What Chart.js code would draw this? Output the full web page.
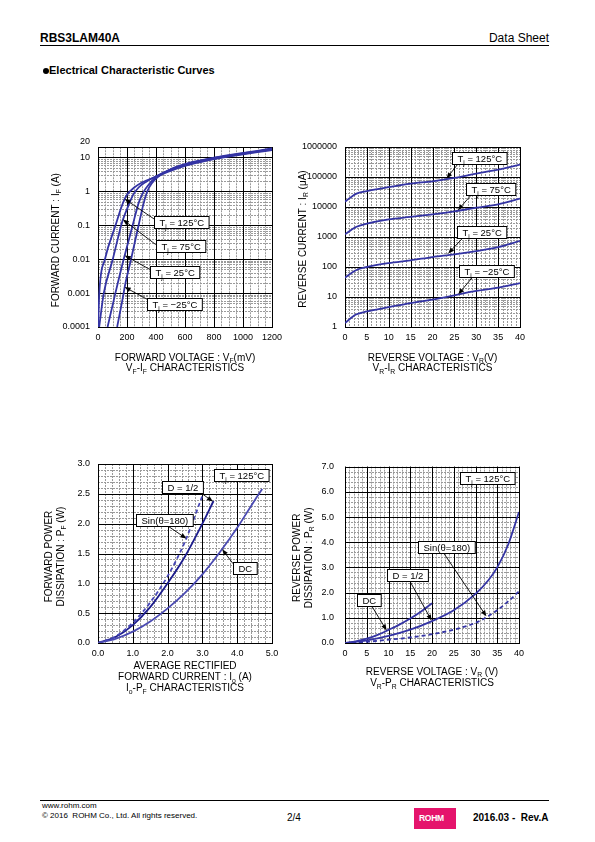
<!DOCTYPE html>
<html><head><meta charset="utf-8">
<script src="https://cdn.jsdelivr.net/npm/chart.js@4.4.0/dist/chart.umd.min.js"></script>
<style>
body{margin:0;width:595px;height:842px;position:relative;background:#fff;font-family:"Liberation Sans",Arial,sans-serif;overflow:hidden}
canvas{position:absolute}
.t{position:absolute;white-space:nowrap;color:#000;line-height:1}
</style></head><body>
<div class="t" style="left:40px;top:32px;font-size:12px;font-weight:bold">RBS3LAM40A</div>
<div class="t" style="right:46px;top:32px;font-size:12px">Data Sheet</div>
<div style="position:absolute;left:40px;top:45px;width:509px;height:1px;background:#000"></div>
<div style="position:absolute;left:43px;top:68px;width:6px;height:6px;border-radius:3px;background:#000"></div>
<div class="t" style="left:49px;top:65px;font-size:11px;font-weight:bold">Electrical Characteristic Curves</div>

<canvas id="c1"></canvas><canvas id="c2"></canvas><canvas id="c3"></canvas><canvas id="c4"></canvas>

<div style="position:absolute;left:40px;top:800px;width:509px;height:1px;background:#000"></div>
<div class="t" style="left:42px;top:802px;font-size:8px">www.rohm.com</div>
<div class="t" style="left:42px;top:812px;font-size:8px">© 2016&nbsp; ROHM Co., Ltd. All rights reserved.</div>
<div class="t" style="left:287px;top:813px;font-size:10px">2/4</div>
<div style="position:absolute;left:414px;top:808px;width:42px;height:21px;background:#e5146c"></div>
<div class="t" style="left:419px;top:814px;font-size:8.5px;font-weight:bold;color:#fff;letter-spacing:-0.3px">ROHM</div>
<div class="t" style="left:473px;top:813px;font-size:10px;font-weight:bold">2016.03 -&nbsp; Rev.A</div>

<script>
// ---------------- DATA ----------------
// Chart 1: VF-IF (VF in mV, IF in A)
const fwdVoltTicks = [0, 200, 400, 600, 800, 1000, 1200];
const fwdCurrTicks = [0.0001, 0.001, 0.01, 0.1, 1, 10, 20];
const fwdCurrTickLabels = ['0.0001', '0.001', '0.01', '0.1', '1', '10', ['20', '']];
const vf_125 = [1, 9, 48, 121, 160, 184, 200, 250, 300, 400, 500, 600, 700, 800, 900, 1000, 1100, 1200];
const if_125 = [0.0001, 0.001, 0.01, 0.1, 0.33, 0.6, 0.8, 1.3, 1.8, 2.7, 4.0, 5.6, 7.2, 8.9, 10.6, 12.4, 14.3, 16.5];
const vf_75 = [8, 40, 102, 160, 172, 200, 243, 280, 330, 400, 500, 600, 700, 800, 900, 1000, 1100, 1200];
const if_75 = [0.0001, 0.001, 0.01, 0.1, 0.147, 0.3, 0.8, 1.3, 1.9, 2.8, 4.3, 6.0, 7.6, 9.3, 11.0, 12.8, 14.8, 17.2];
const vf_25 = [66, 120, 177, 184, 239, 280, 310, 350, 400, 500, 600, 700, 800, 900, 1000, 1100, 1200];
const if_25 = [0.0001, 0.001, 0.01, 0.0129, 0.1, 0.45, 0.9, 1.6, 2.6, 4.4, 6.2, 7.9, 9.6, 11.3, 13.2, 15.2, 18.0];
const vf_m25 = [132, 177, 184, 228, 280, 315, 340, 370, 410, 500, 600, 700, 800, 900, 1000, 1100, 1200];
const if_m25 = [0.0001, 0.001, 0.0015, 0.01, 0.1, 0.45, 1.0, 1.7, 2.6, 4.5, 6.4, 8.1, 9.9, 11.7, 13.6, 15.7, 18.8];

// Chart 2: VR-IR (VR in V, IR in uA)
const revVoltTicks = [0, 5, 10, 15, 20, 25, 30, 35, 40];
const revCurrTicks = [1, 10, 100, 1000, 10000, 100000, 1000000];
const revCurrTickLabels = ['1', '10', '100', '1000', '10000', '100000', '1000000'];
const vr_pts = [0, 2.5, 5, 10, 15, 20, 25, 30, 35, 40];
const ir_125 = [15000, 27500, 34000, 46000, 60000, 72000, 93000, 130000, 175000, 260000];
const ir_75 = [1230, 2150, 2800, 3900, 4650, 5700, 7200, 9500, 12300, 19000];
const ir_25 = [44, 78, 100, 135, 166, 215, 263, 340, 460, 740];
const ir_m25 = [1.36, 2.6, 3.3, 4.6, 6.3, 8.2, 11.4, 16, 20.5, 29];

// Chart 3: Io-PF (Io in A, PF in W)
const ioTicks = [0, 1, 2, 3, 4, 5];
const pfTicks = [0, 0.5, 1, 1.5, 2, 2.5, 3];
const io_dc = [0, 0.5, 1.0, 1.5, 2.0, 2.5, 3.0, 3.5, 4.0, 4.5, 4.72];
const pf_dc = [0, 0.07, 0.19, 0.36, 0.58, 0.84, 1.15, 1.52, 1.93, 2.39, 2.58];
const io_half = [0, 0.5, 1.0, 1.5, 2.0, 2.5, 3.0, 3.32];
const pf_half = [0, 0.1, 0.3, 0.6, 1.0, 1.45, 2.0, 2.38];
const io_sin = [0, 0.5, 1.0, 1.5, 2.0, 2.5, 3.02];
const pf_sin = [0, 0.11, 0.34, 0.68, 1.12, 1.7, 2.5];

// Chart 4: VR-PR (VR in V, PR in W)
const vrTicks = [0, 5, 10, 15, 20, 25, 30, 35, 40];
const prTicks = [0, 1, 2, 3, 4, 5, 6, 7];
const vr_dc = [0, 2.5, 5, 7.5, 10, 12.5, 15, 17.5, 20];
const pr_dc = [0, 0.06, 0.17, 0.32, 0.52, 0.73, 0.97, 1.25, 1.58];
const vr_half = [0, 5, 10, 15, 20, 25, 30, 33, 35, 37.5, 40];
const pr_half = [0, 0.1, 0.28, 0.53, 0.87, 1.3, 1.95, 2.5, 3.0, 3.9, 5.2];
const vr_sin = [0, 5, 10, 15, 20, 25, 30, 32.5, 35, 37.5, 40];
const pr_sin = [0, 0.05, 0.13, 0.22, 0.35, 0.53, 0.8, 1.02, 1.3, 1.65, 2.05];

// ---------------- HELPERS ----------------
const FONT = '"Liberation Sans", Arial, sans-serif';
const zip = (xs, ys) => xs.map((x, i) => ({x: x, y: ys[i]}));
const range = (a, b, s) => { const r = []; for (let v = a; v <= b + 1e-9; v += s) r.push(+v.toFixed(6)); return r; };
const logMinors = (lo, hi) => { const r = []; for (let d = Math.floor(Math.log10(lo)); d <= Math.ceil(Math.log10(hi)); d++) for (let k = 2; k <= 9; k++) { const v = k * Math.pow(10, d); if (v > lo && v < hi) r.push(v); } return r; };

function parseRich(s) {
  const out = []; const re = /_\{([^}]*)\}/g; let last = 0, m;
  while ((m = re.exec(s))) { if (m.index > last) out.push({t: s.slice(last, m.index), sub: false}); out.push({t: m[1], sub: true}); last = re.lastIndex; }
  if (last < s.length) out.push({t: s.slice(last), sub: false});
  return out;
}
function richWidth(ctx, segs, size) {
  let w = 0; segs.forEach(s => { ctx.font = (s.sub ? size * 0.68 : size) + 'px ' + FONT; w += ctx.measureText(s.t).width; }); return w;
}
function drawRich(ctx, str, x, y, size, align, rotate) {
  const segs = parseRich(str);
  ctx.save(); ctx.translate(x, y); if (rotate) ctx.rotate(-Math.PI / 2);
  const w = richWidth(ctx, segs, size);
  let cx = align === 'left' ? 0 : (align === 'right' ? -w : -w / 2);
  ctx.fillStyle = '#000'; ctx.textBaseline = 'alphabetic'; ctx.textAlign = 'left';
  segs.forEach(s => { const fs = s.sub ? size * 0.68 : size; ctx.font = fs + 'px ' + FONT; ctx.fillText(s.t, cx, size * 0.36 + (s.sub ? size * 0.28 : 0)); cx += ctx.measureText(s.t).width; });
  ctx.restore();
}
function arrow(ctx, x1, y1, x2, y2) {
  const ang = Math.atan2(y2 - y1, x2 - x1), L = 6, H = 2.4;
  ctx.save(); ctx.strokeStyle = '#000'; ctx.fillStyle = '#000'; ctx.lineWidth = 0.9;
  ctx.beginPath(); ctx.moveTo(x1, y1); ctx.lineTo(x2 - Math.cos(ang) * L * 0.8, y2 - Math.sin(ang) * L * 0.8); ctx.stroke();
  ctx.beginPath(); ctx.moveTo(x2, y2);
  ctx.lineTo(x2 - L * Math.cos(ang) + H * Math.sin(ang), y2 - L * Math.sin(ang) - H * Math.cos(ang));
  ctx.lineTo(x2 - L * Math.cos(ang) - H * Math.sin(ang), y2 - L * Math.sin(ang) + H * Math.cos(ang));
  ctx.closePath(); ctx.fill(); ctx.restore();
}

const decor = {
  id: 'decor',
  beforeDatasetsDraw(chart, args, o) {
    const {ctx, chartArea: a, scales: {x, y}} = chart;
    ctx.save();
    ctx.lineWidth = 1;
    const vline = v => { const p = Math.round(x.getPixelForValue(v)) + 0.5; ctx.beginPath(); ctx.moveTo(p, a.top); ctx.lineTo(p, a.bottom); ctx.stroke(); };
    const hline = v => { const p = Math.round(y.getPixelForValue(v)) + 0.5; ctx.beginPath(); ctx.moveTo(a.left, p); ctx.lineTo(a.right, p); ctx.stroke(); };
    ctx.strokeStyle = '#9a9a9a'; ctx.setLineDash([2, 1]);
    o.minorX.forEach(vline); o.minorY.forEach(hline);
    ctx.setLineDash([]); ctx.strokeStyle = '#000';
    x.ticks.forEach(t => vline(t.value)); y.ticks.forEach(t => hline(t.value));
    ctx.strokeRect(Math.round(a.left) + 0.5, Math.round(a.top) + 0.5, Math.round(a.right) - Math.round(a.left), Math.round(a.bottom) - Math.round(a.top));
    ctx.restore();
  },
  afterDraw(chart, args, o) {
    const {ctx, chartArea: a, scales: {x, y}} = chart;
    const cxm = (a.left + a.right) / 2, cym = (a.top + a.bottom) / 2;
    o.xTitle.forEach(l => drawRich(ctx, l.text, cxm + (l.dx || 0), a.bottom + l.dy, 10, 'center', false));
    o.yTitle.forEach(l => drawRich(ctx, l.text, a.left + l.dx, cym + (l.dy || 0), 10, 'center', true));
    o.notes.forEach(n => {
      if (n.tip) arrow(ctx, x.getPixelForValue(n.tail[0]), y.getPixelForValue(n.tail[1]), x.getPixelForValue(n.tip[0]), y.getPixelForValue(n.tip[1]));
      const segs = parseRich(n.text); const w = richWidth(ctx, segs, 9.5) + 10; const h = 12;
      const bx = Math.round(x.getPixelForValue(n.box[0])) + 0.5, by = Math.round(y.getPixelForValue(n.box[1]) - h / 2) + 0.5;
      ctx.save(); ctx.fillStyle = '#fff'; ctx.strokeStyle = '#000'; ctx.lineWidth = 1;
      ctx.fillRect(bx, by, w, h); ctx.strokeRect(bx, by, w, h); ctx.restore();
      drawRich(ctx, n.text, bx + w / 2, by + h / 2, 9.5, 'center', false);
    });
  }
};

function tickAxis(type, vals, labels, min, max, pad, fit) {
  const lab = new Map(vals.map((v, i) => [v, labels[i]]));
  return {
    type: type, min: min, max: max,
    afterBuildTicks: s => { s.ticks = vals.map(v => ({value: v})); },
    afterFit: fit,
    ticks: {autoSkip: false, maxRotation: 0, padding: pad, color: '#000', font: {family: FONT, size: 9, lineHeight: 1.25}, callback: v => lab.get(v)},
    grid: {display: false, drawTicks: false},
    border: {display: false}
  };
}

function makeChart(id, rect, plot, cfg) {
  const cv = document.getElementById(id);
  cv.width = rect.w; cv.height = rect.h; cv.style.left = rect.x + 'px'; cv.style.top = rect.y + 'px';
  const yW = plot.l - rect.x, xH = rect.y + rect.h - plot.b;
  new Chart(cv, {
    type: 'line',
    data: {datasets: cfg.datasets},
    options: {
      responsive: false, animation: false, devicePixelRatio: 1, parsing: true,
      layout: {padding: {left: 0, top: plot.t - rect.y, right: rect.x + rect.w - plot.r, bottom: 0}},
      plugins: {legend: {display: false}, tooltip: {enabled: false}, decor: cfg.decor},
      scales: {
        x: tickAxis(cfg.x.type, cfg.x.vals, cfg.x.labels, cfg.x.min, cfg.x.max, cfg.x.pad, s => { s.height = xH; }),
        y: tickAxis(cfg.y.type, cfg.y.vals, cfg.y.labels, cfg.y.min, cfg.y.max, cfg.y.pad, s => { s.width = yW; })
      },
      elements: {point: {radius: 0}, line: {borderWidth: 1.8, cubicInterpolationMode: 'monotone'}}
    },
    plugins: [decor]
  });
}
const ds = (pts, color, dash) => ({data: pts, borderColor: color, borderDash: dash || [], fill: false, pointRadius: 0});
const BLUE = '#3434a4';

// ---------------- CHART 1 ----------------
makeChart('c1', {x: 30, y: 128, w: 262, h: 250}, {l: 98, t: 147, r: 272, b: 327}, {
  datasets: [ds(zip(vf_125, if_125), BLUE), ds(zip(vf_75, if_75), BLUE), ds(zip(vf_25, if_25), BLUE), ds(zip(vf_m25, if_m25), BLUE)],
  x: {type: 'linear', vals: fwdVoltTicks, labels: fwdVoltTicks.map(String), min: 0, max: 1200, pad: 5},
  y: {type: 'logarithmic', vals: fwdCurrTicks, labels: fwdCurrTickLabels, min: 0.0001, max: 20, pad: 8},
  decor: {
    minorX: range(0, 1200, 50), minorY: logMinors(0.0001, 20),
    xTitle: [{text: 'FORWARD VOLTAGE : V_{F}(mV)', dy: 30}, {text: 'V_{F}-I_{F} CHARACTERISTICS', dy: 40.5}],
    yTitle: [{text: 'FORWARD CURRENT : I_{F} (A)', dx: -43, dy: 3}],
    notes: [
      {text: 'T_{j} = 125°C', box: [386, 0.127], tail: [386, 0.154], tip: [184, 0.595]},
      {text: 'T_{j} = 75°C', box: [398, 0.024], tail: [398, 0.027], tip: [172, 0.147]},
      {text: 'T_{j} = 25°C', box: [357, 0.0041], tail: [357, 0.005], tip: [184, 0.0129]},
      {text: 'T_{j} = −25°C', box: [341, 0.00048], tail: [341, 0.00065], tip: [184, 0.0015]}
    ]
  }
});

// ---------------- CHART 2 ----------------
makeChart('c2', {x: 288, y: 128, w: 262, h: 250}, {l: 345, t: 147, r: 520, b: 327}, {
  datasets: [ds(zip(vr_pts, ir_125), BLUE), ds(zip(vr_pts, ir_75), BLUE), ds(zip(vr_pts, ir_25), BLUE), ds(zip(vr_pts, ir_m25), BLUE)],
  x: {type: 'linear', vals: revVoltTicks, labels: revVoltTicks.map(String), min: 0, max: 40, pad: 5},
  y: {type: 'logarithmic', vals: revCurrTicks, labels: revCurrTickLabels, min: 1, max: 1000000, pad: 8},
  decor: {
    minorX: range(0, 40, 1), minorY: logMinors(1, 1000000),
    xTitle: [{text: 'REVERSE VOLTAGE : V_{R}(V)', dy: 30}, {text: 'V_{R}-I_{R} CHARACTERISTICS', dy: 40.5}],
    yTitle: [{text: 'REVERSE CURRENT : I_{R} (μA)', dx: -43, dy: 2}],
    notes: [
      {text: 'T_{j} = 125°C', box: [24.5, 417000], tail: [25.9, 282000], tip: [23.2, 89000]},
      {text: 'T_{j} = 75°C', box: [27.6, 40000], tail: [28.9, 25700], tip: [25.8, 7800]},
      {text: 'T_{j} = 25°C', box: [25.5, 1480], tail: [27.0, 955], tip: [23.6, 282]},
      {text: 'T_{j} = −25°C', box: [26.1, 71], tail: [29.2, 46.8], tip: [25.9, 12.3]}
    ]
  }
});

// ---------------- CHART 3 ----------------
makeChart('c3', {x: 30, y: 450, w: 262, h: 250}, {l: 98, t: 464, r: 272, b: 643}, {
  datasets: [ds(zip(io_dc, pf_dc), '#4a4ab2'), ds(zip(io_sin, pf_sin), '#4646b6', [4, 3]), ds(zip(io_half, pf_half), '#1c1c8c')],
  x: {type: 'linear', vals: ioTicks, labels: ioTicks.map(v => v.toFixed(1)), min: 0, max: 5, pad: 5},
  y: {type: 'linear', vals: pfTicks, labels: pfTicks.map(v => v.toFixed(1)), min: 0, max: 3, pad: 8},
  decor: {
    minorX: range(0, 5, 0.2), minorY: range(0, 3, 0.1),
    xTitle: [{text: 'AVERAGE RECTIFIED', dy: 22}, {text: 'FORWARD CURRENT : I_{o} (A)', dy: 33.5}, {text: 'I_{o}-P_{F} CHARACTERISTICS', dy: 44.5}],
    yTitle: [{text: 'FORWARD POWER', dx: -50, dy: 3}, {text: 'DISSIPATION : P_{F} (W)', dx: -38, dy: 3}],
    notes: [
      {text: 'T_{j} = 125°C', box: [3.32, 2.81]},
      {text: 'D = 1/2', box: [1.85, 2.62], tail: [2.95, 2.52], tip: [3.30, 2.37]},
      {text: 'Sin(θ=180)', box: [1.10, 2.06], tail: [2.01, 1.96], tip: [2.54, 1.75]},
      {text: 'DC', box: [3.88, 1.25], tail: [3.88, 1.33], tip: [3.57, 1.57]}
    ]
  }
});

// ---------------- CHART 4 ----------------
makeChart('c4', {x: 285, y: 450, w: 262, h: 250}, {l: 345, t: 464, r: 519, b: 643}, {
  datasets: [ds(zip(vr_dc, pr_dc), BLUE), ds(zip(vr_half, pr_half), BLUE), ds(zip(vr_sin, pr_sin), BLUE, [4, 3])],
  x: {type: 'linear', vals: vrTicks, labels: vrTicks.map(String), min: 0, max: 40, pad: 5},
  y: {type: 'linear', vals: prTicks, labels: prTicks.map(v => v.toFixed(1)), min: 0, max: 7, pad: 11},
  decor: {
    minorX: range(0, 40, 1), minorY: range(0, 7, 0.2),
    xTitle: [{text: 'REVERSE VOLTAGE : V_{R} (V)', dy: 28}, {text: 'V_{R}-P_{R} CHARACTERISTICS', dy: 39.5}],
    yTitle: [{text: 'REVERSE POWER', dx: -49, dy: 3}, {text: 'DISSIPATION : P_{R} (W)', dx: -37, dy: 3}],
    notes: [
      {text: 'T_{j} = 125°C', box: [26.4, 6.55]},
      {text: 'Sin(θ=180)', box: [16.8, 3.82], tail: [22.6, 3.59], tip: [32.5, 1.06]},
      {text: 'D = 1/2', box: [9.57, 2.70], tail: [14.9, 2.46], tip: [19.9, 0.89]},
      {text: 'DC', box: [2.68, 1.70], tail: [6.1, 1.48], tip: [9.57, 0.50]}
    ]
  }
});
</script>
</body></html>
